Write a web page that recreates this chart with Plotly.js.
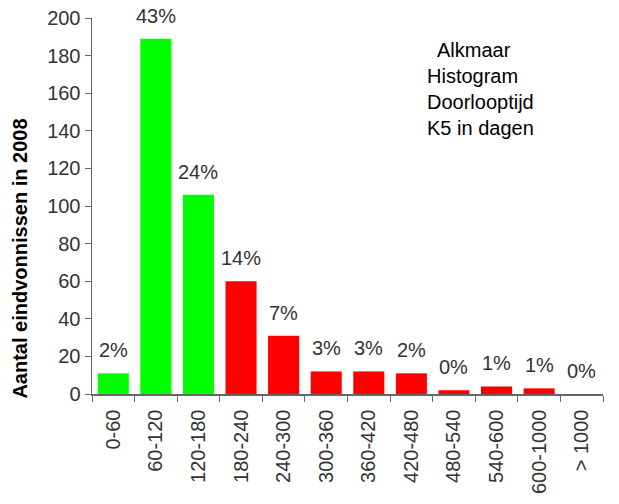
<!DOCTYPE html>
<html>
<head>
<meta charset="utf-8">
<script src="https://cdn.plot.ly/plotly-3.0.1.min.js"></script>
<style>html,body{margin:0;padding:0;background:#fff;}#chart{width:619px;height:504px;}</style>
</head>
<body>
<div id="chart"></div>
<script>
const categories = ["0-60","60-120","120-180","180-240","240-300","300-360","360-420","420-480","480-540","540-600","600-1000","> 1000"];
const counts = [11, 189, 106, 60, 31, 12, 12, 11, 2, 4, 3, 0];
const percentLabels = ["2%","43%","24%","14%","7%","3%","3%","2%","0%","1%","1%","0%"];
const barColors = ["#00ff00","#00ff00","#00ff00","#ff0000","#ff0000","#ff0000","#ff0000","#ff0000","#ff0000","#ff0000","#ff0000","#ff0000"];
const yTicks = [0,20,40,60,80,100,120,140,160,180,200];
const noteLines = ["  Alkmaar","Histogram","Doorlooptijd","K5 in dagen"];
const yTitle = "Aantal eindvonnissen in 2008";

const FONT = "Liberation Sans, Arial, Helvetica, sans-serif";

const annotations = categories.map((c, i) => ({
  x: c, y: counts[i], xref: "x", yref: "y",
  text: percentLabels[i], showarrow: false,
  yanchor: "bottom", yshift: 10,
  font: {family: FONT, size: 20, color: "#333333"}
}));
annotations.push({
  xref: "paper", yref: "paper", x: 0.651, y: 0.95,
  xanchor: "left", yanchor: "top", align: "left",
  text: noteLines.join("<br>"), showarrow: false,
  font: {family: FONT, size: 20, color: "#000000"}
});
annotations.push({
  xref: "paper", yref: "paper", x: -0.141, y: 0.36,
  xanchor: "center", yanchor: "middle", textangle: -90,
  text: "<b>" + yTitle + "</b>", showarrow: false,
  font: {family: FONT, size: 20, color: "#000000"}
});

const data = [{
  type: "bar",
  x: categories,
  y: counts,
  marker: {color: barColors, line: {width: 0}},
  hoverinfo: "none"
}];

const layout = {
  width: 619, height: 504,
  margin: {l: 92, r: 16, t: 18, b: 110},
  paper_bgcolor: "#ffffff", plot_bgcolor: "#ffffff",
  bargap: 0.27,
  showlegend: false,
  font: {family: FONT, color: "#333333"},
  xaxis: {
    type: "category",
    tickangle: -90,
    ticks: "outside", ticklen: 6, tickcolor: "#666666",
    tickson: "boundaries",
    showline: true, linecolor: "#666666", linewidth: 1.5,
    showgrid: false, zeroline: false,
    tickfont: {family: FONT, size: 20, color: "#333333"},
    ticklabelstandoff: 6
  },
  yaxis: {
    range: [0, 200],
    tickvals: yTicks,
    ticks: "outside", ticklen: 6, tickcolor: "#666666",
    showline: true, linecolor: "#666666", linewidth: 1.5,
    showgrid: false, zeroline: false,
    tickfont: {family: FONT, size: 20, color: "#333333"}
  },
  annotations: annotations
};

Plotly.newPlot("chart", data, layout, {displayModeBar: false, staticPlot: true});
</script>
</body>
</html>
